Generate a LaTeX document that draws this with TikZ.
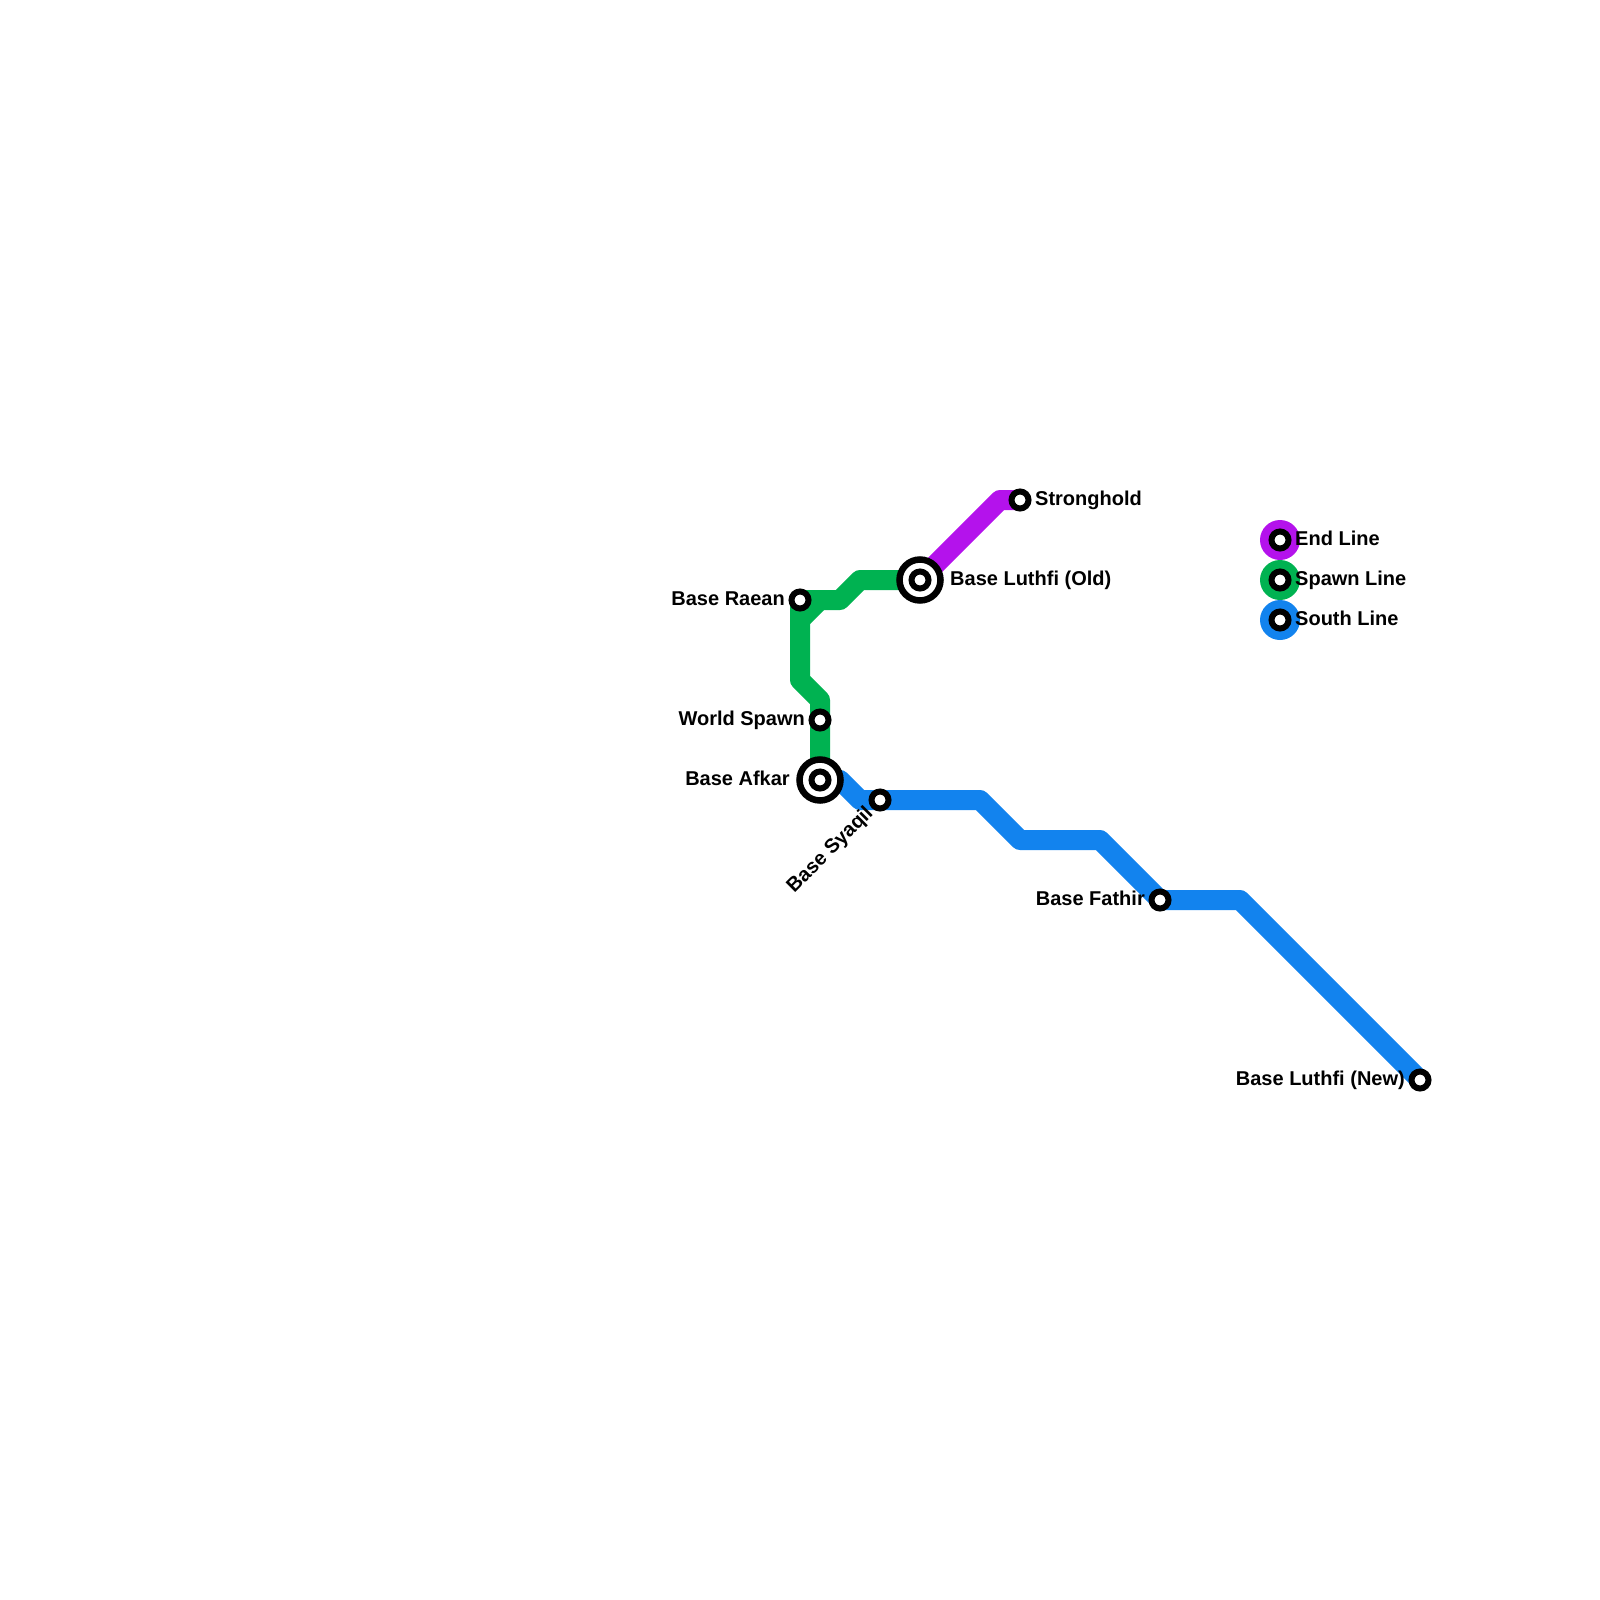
\documentclass[tikz,border=0pt]{standalone}
\usepackage{fontspec}
\setmainfont{Liberation Sans}
\definecolor{endc}{HTML}{B412EC}
\definecolor{spawnc}{HTML}{00B251}
\definecolor{southc}{HTML}{1283EE}
\tikzset{
  metro/.style={line width=20pt,line join=round,line cap=butt},
  stn/.style={circle,draw=black,fill=white,line width=6pt,minimum size=17pt,inner sep=0pt},
  intA/.style={circle,draw=black,fill=white,line width=6.5pt,minimum size=41pt,inner sep=0pt},
  leg/.style={circle,minimum size=40pt,inner sep=0pt},
  lbl/.style={font=\fontsize{20}{20}\selectfont\bfseries,inner sep=0pt,text=black},
}
\begin{document}
\begin{tikzpicture}[x=1pt,y=-1pt]
\useasboundingbox (0,0) rectangle (1600,1600);
\coordinate (stronghold) at (1020,500);
\coordinate (luthfiold) at (920,580);
\coordinate (raean) at (800,600);
\coordinate (spawn) at (820,720);
\coordinate (afkar) at (820,780);
\coordinate (syaqil) at (880,800);
\coordinate (fathir) at (1160,900);
\coordinate (luthfinew) at (1420,1080);
\coordinate (k1) at (1000,500);
\coordinate (g1) at (840,600);
\coordinate (g2) at (860,580);
\coordinate (g3) at (820,600);
\coordinate (g4) at (800,620);
\coordinate (g5) at (800,680);
\coordinate (g6) at (820,700);
\coordinate (b1) at (840,780);
\coordinate (b2) at (860,800);
\coordinate (b3) at (980,800);
\coordinate (b4) at (1020,840);
\coordinate (b5) at (1100,840);
\coordinate (b6) at (1240,900);
\draw[metro,endc] (luthfiold) -- (k1) -- (stronghold);
\draw[metro,spawnc] (raean) -- (g1) -- (g2) -- (luthfiold);
\draw[metro,spawnc] (raean) -- (g5) -- (g6) -- (afkar);
\draw[metro,spawnc] (g3) -- (g4);
\draw[metro,southc] (afkar) -- (b1) -- (b2) -- (b3) -- (b4) -- (b5) -- (fathir) -- (b6) -- (luthfinew);
\node[intA] (nluthfiold) at (luthfiold) {};
\node[intA] (nafkar) at (afkar) {};
\foreach \p/\n in {stronghold/a,luthfiold/b,raean/c,spawn/d,afkar/e,syaqil/f,fathir/g,luthfinew/h}
  \node[stn] (st\n) at (\p) {};
\node[lbl,anchor=base west] (lstronghold) at (1035,505) {Stronghold};
\node[lbl,anchor=base west] (lluthfiold) at (950,585) {Base Luthfi (Old)};
\node[lbl,anchor=base east] (lraean) at (785,605) {Base Raean};
\node[lbl,anchor=base east] (lspawn) at (805,725) {World Spawn};
\node[lbl,anchor=base east] (lafkar) at (790,785) {Base Afkar};
\node[lbl,anchor=base east,rotate=45] (lsyaqil) at (874,814) {Base Syaqil};
\node[lbl,anchor=base east] (lfathir) at (1145,905) {Base Fathir};
\node[lbl,anchor=base east] (lnew) at (1405,1085) {Base Luthfi (New)};
\node[leg,fill=endc] (e1) at (1280,540) {};
\node[leg,fill=spawnc] (e2) at (1280,580) {};
\node[leg,fill=southc] (e3) at (1280,620) {};
\node[stn] (s1) at (1280,540) {};
\node[stn] (s2) at (1280,580) {};
\node[stn] (s3) at (1280,620) {};
\node[lbl,anchor=base west] (t1) at (1295,545) {End Line};
\node[lbl,anchor=base west] (t2) at (1295,585) {Spawn Line};
\node[lbl,anchor=base west] (t3) at (1295,625) {South Line};
\end{tikzpicture}
\end{document}
